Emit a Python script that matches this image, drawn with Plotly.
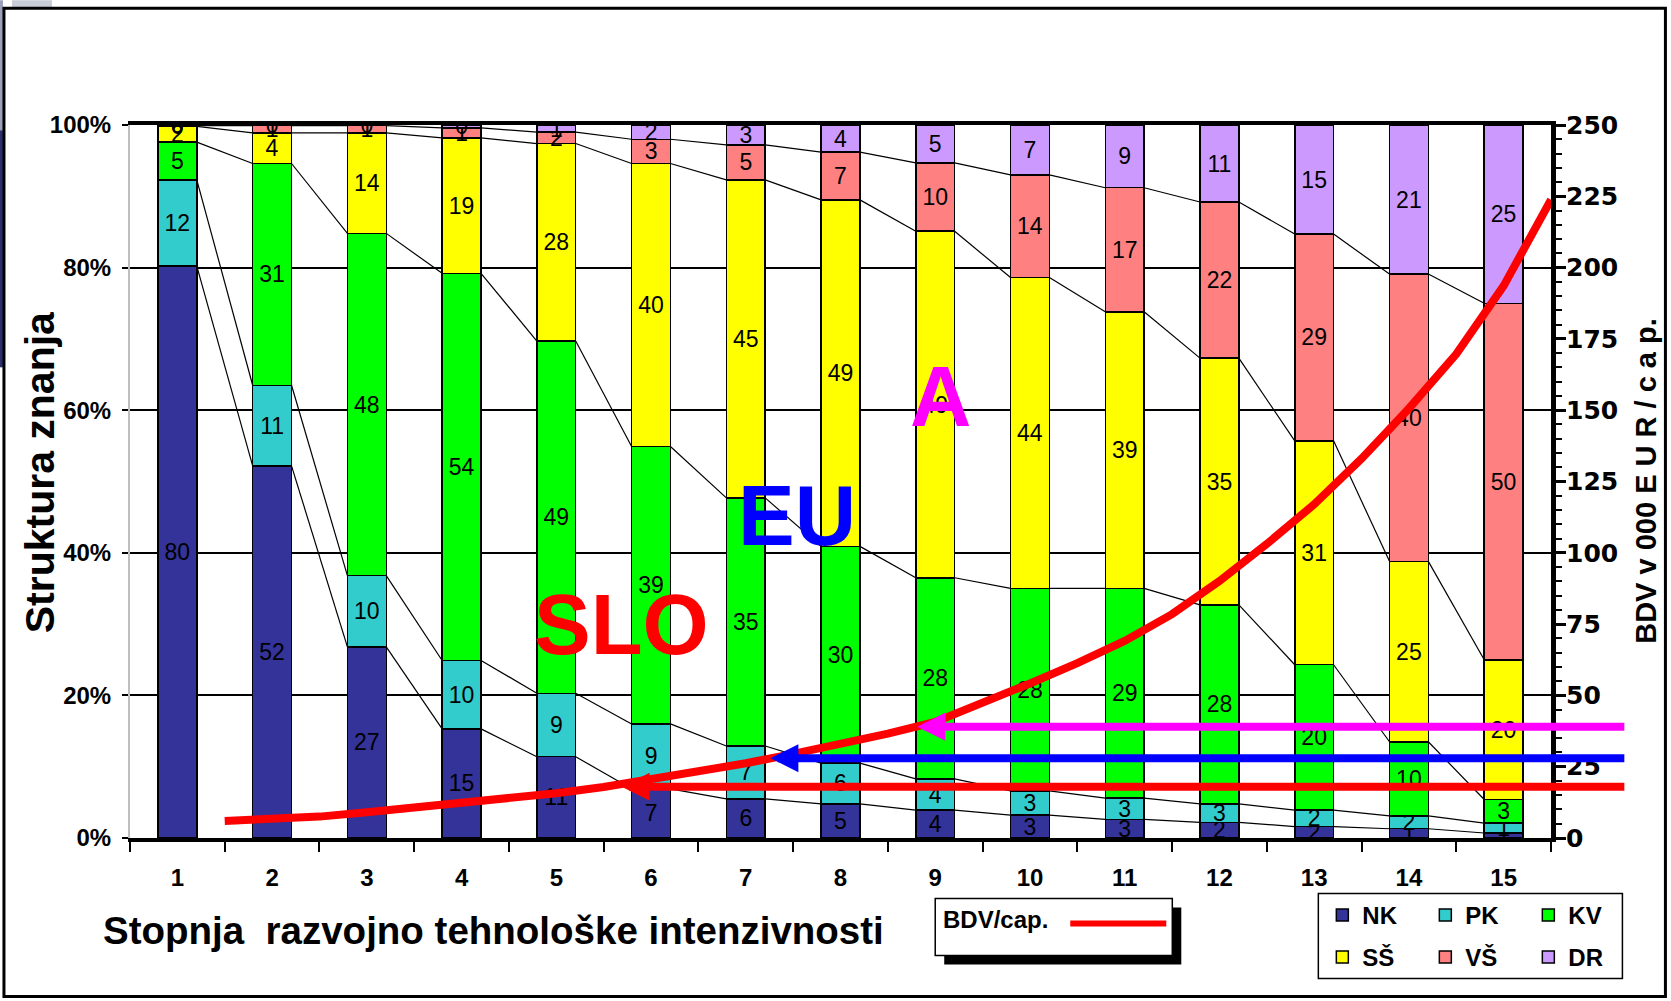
import plotly.graph_objects as go

# ---------------- data ----------------
CATEGORIES = list(range(1, 16))
NK = [80.2, 52.2, 26.8, 15.3, 11.4, 6.9, 5.5, 4.8, 3.9, 3.2, 2.6, 2.2, 1.6, 1.3, 0.7]
PK = [12.1, 11.3, 10.0, 9.6, 8.9, 9.1, 7.4, 5.7, 4.4, 3.4, 3.0, 2.6, 2.3, 1.8, 1.4]
KV = [5.3, 31.1, 48.0, 54.3, 49.4, 38.9, 34.8, 30.4, 28.2, 28.4, 29.4, 27.9, 20.4, 10.4, 3.3]
SS = [2.2, 4.3, 14.1, 19.0, 27.7, 39.7, 44.6, 48.6, 48.6, 43.6, 38.8, 34.6, 31.4, 25.3, 19.6]
VS = [0.1, 1.0, 1.0, 1.4, 1.6, 3.4, 4.9, 6.7, 9.6, 14.4, 17.4, 21.9, 29.0, 40.3, 50.0]
DR = [0.1, 0.1, 0.1, 0.4, 1.0, 2.0, 2.8, 3.8, 5.3, 7.0, 8.8, 10.8, 15.3, 20.9, 25.0]
SERIES_NAMES = ["NK", "PK", "KV", "SŠ", "VŠ", "DR"]
SERIES_COLORS = ["#333399", "#33CCCC", "#00FF00", "#FFFF00", "#FF8080", "#CC99FF"]

Y_TICKS = [0, 20, 40, 60, 80, 100]
Y_TICK_TEXT = ["0%", "20%", "40%", "60%", "80%", "100%"]

BDV_X = [1.5, 2, 2.5, 3, 3.5, 4, 4.5, 5, 5.5, 6, 6.5, 7, 7.5, 8, 8.5, 9, 9.5,
         10, 10.5, 11, 11.5, 12, 12.5, 13, 13.5, 14, 14.5, 15, 15.5]
BDV = [6.0, 6.7, 7.5, 9.0, 10.5, 12.0, 13.8, 15.7, 17.9, 20.6, 23.2, 26.2, 29.5, 32.9,
       36.6, 40.7, 47.1, 54.2, 61.3, 69.1, 78.5, 90.1, 103.1, 117.0, 133.0, 150.6,
       169.7, 193.6, 223.8]

REGION_LABELS = ["SLO", "EU", "A"]
REGION_COLORS = ["#FF0000", "#0000FF", "#FF00FF"]
REGION_X = [5.69, 7.54, 9.06]
REGION_Y = [30.0, 45.3, 61.9]
ARROW_LEVELS = [18, 28, 39]
ARROW_TIPS_X = [5.69, 7.26, 8.81]
ARROW_TAIL_X = 16.29

X_TITLE = "Stopnja  razvojno tehnološke intenzivnosti"
Y_TITLE = "Struktura znanja"
Y2_TITLE = "BDV v 000 E U R / c a p."
LINE_LABEL = "BDV/cap."

# ---------------- layout helpers ----------------
W, H = 1671, 1001
L, R, T, B = 130, 120.4, 124.7, 163.4
PW, PH = W - L - R, H - T - B


def PX(x):
    return (x - L) / PW


def PY(y):
    return (H - B - y) / PH


FONT = "Liberation Sans, Arial, sans-serif"
BAR_W = 0.41

fig = go.Figure()
series = [NK, PK, KV, SS, VS, DR]
for i, (name, vals, col) in enumerate(zip(SERIES_NAMES, series, SERIES_COLORS)):
    fig.add_trace(go.Bar(
        x=CATEGORIES, y=vals, name=name, width=BAR_W,
        marker=dict(color=col, line=dict(color="black", width=1.5)),
        text=[f"{v:.0f}" for v in vals], texttemplate="%{text}",
        textposition="inside", insidetextanchor="middle", textangle=0,
        constraintext="none",
        textfont=dict(family=FONT, size=23, color="black"),
        legend="legend" if i < 3 else "legend2",
        hoverinfo="skip",
    ))

# series lines connecting segment tops
cum = []
run = [0.0] * len(CATEGORIES)
for vals in series[:-1]:
    run = [a + b for a, b in zip(run, vals)]
    cum.append(run[:])
lx, ly = [], []
hw = BAR_W / 2
for c in cum:
    for i in range(len(CATEGORIES) - 1):
        lx += [CATEGORIES[i] + hw, CATEGORIES[i + 1] - hw, None]
        ly += [c[i], c[i + 1], None]
fig.add_trace(go.Scatter(x=lx, y=ly, mode="lines", line=dict(color="black", width=1.2),
                         showlegend=False, hoverinfo="skip"))

fig.add_trace(go.Scatter(x=BDV_X, y=BDV, yaxis="y2", mode="lines", name=LINE_LABEL,
                         line=dict(color="#FF0000", width=8), showlegend=False,
                         hoverinfo="skip"))

tickfont = dict(family=FONT, size=24, color="black", weight="bold")
legfont = dict(family=FONT, size=24, color="black", weight="bold")

fig.update_layout(
    width=W, height=H,
    margin=dict(l=L, r=R, t=T, b=B, pad=0, autoexpand=False),
    paper_bgcolor="white", plot_bgcolor="white",
    barmode="stack",
    showlegend=True,
    xaxis=dict(range=[0.5, 15.5], tickmode="array", tickvals=CATEGORIES, ticks="",
               showgrid=False, zeroline=False, showline=True, linewidth=4,
               linecolor="black", mirror=True, tickfont=tickfont,
               ticklabelstandoff=15,
               minor=dict(tickmode="array", tickvals=[0.5 + i for i in range(16)],
                          ticks="outside", ticklen=10, tickwidth=2, tickcolor="black")),
    yaxis=dict(range=[0, 100], tickmode="array", tickvals=Y_TICKS, ticktext=Y_TICK_TEXT,
               showgrid=True, gridcolor="black", gridwidth=1.5,
               zeroline=False, showline=True, linecolor="#bfbfbf", linewidth=2,
               ticks="outside", ticklen=6, tickwidth=2, tickcolor="black",
               tickfont=tickfont, ticklabelstandoff=6),
    yaxis2=dict(overlaying="y", side="right", range=[0, 250], tick0=0, dtick=25,
                showgrid=False, zeroline=False, showline=True, linewidth=5,
                linecolor="black", ticks="outside", ticklen=10, tickwidth=3,
                tickcolor="black",
                minor=dict(dtick=5, ticks="outside", ticklen=6, tickwidth=2,
                           tickcolor="black"),
                tickfont=dict(family="DejaVu Sans", size=25, color="black", weight="bold"),
                ticklabelstandoff=-5),
    legend=dict(orientation="h", x=PX(1322), y=PY(915), xanchor="left", yanchor="middle",
                bgcolor="rgba(0,0,0,0)", borderwidth=0, font=legfont,
                entrywidth=58, entrywidthmode="pixels", traceorder="normal"),
    legend2=dict(orientation="h", x=PX(1322), y=PY(957), xanchor="left", yanchor="middle",
                 bgcolor="rgba(0,0,0,0)", borderwidth=0, font=legfont,
                 entrywidth=58, entrywidthmode="pixels", traceorder="normal"),
)

shapes = [
    dict(type="rect", xref="paper", yref="paper", x0=PX(0), x1=PX(3), y0=PY(0), y1=PY(130),
         fillcolor="#9aa0b8", line=dict(width=0), layer="above"),
    dict(type="rect", xref="paper", yref="paper", x0=PX(0), x1=PX(3), y0=PY(130), y1=PY(367),
         fillcolor="#2b2f6e", line=dict(width=0), layer="above"),
    dict(type="rect", xref="paper", yref="paper", x0=PX(12), x1=PX(52), y0=PY(0), y1=PY(7),
         fillcolor="#c8cdd8", line=dict(width=0), layer="above"),
    dict(type="rect", xref="paper", yref="paper", x0=PX(4), x1=PX(1665), y0=PY(8), y1=PY(996),
         line=dict(color="black", width=3), layer="above"),
    dict(type="rect", xref="paper", yref="paper", x0=PX(1318), x1=PX(1622), y0=PY(893),
         y1=PY(978), fillcolor="white", line=dict(color="black", width=1.5), layer="above"),
    dict(type="rect", xref="paper", yref="paper", x0=PX(944), x1=PX(1181), y0=PY(907),
         y1=PY(964), fillcolor="black", line=dict(width=0), layer="above"),
    dict(type="rect", xref="paper", yref="paper", x0=PX(935), x1=PX(1172), y0=PY(898),
         y1=PY(955), fillcolor="white", line=dict(color="black", width=1.5), layer="above"),
    dict(type="line", xref="paper", yref="paper", x0=PX(1070), x1=PX(1166), y0=PY(923),
         y1=PY(923), line=dict(color="#FF0000", width=6), layer="above"),
]

annotations = [
    dict(text=X_TITLE, xref="paper", yref="paper", x=PX(493), y=PY(930), xanchor="center",
         yanchor="middle", showarrow=False,
         font=dict(family=FONT, size=38.5, color="black", weight="bold")),
    dict(text=Y_TITLE, xref="paper", yref="paper", x=PX(40), y=PY(472), xanchor="center",
         yanchor="middle", textangle=-90, showarrow=False,
         font=dict(family=FONT, size=41, color="black", weight="bold")),
    dict(text=Y2_TITLE, xref="paper", yref="paper", x=PX(1646), y=PY(480), xanchor="center",
         yanchor="middle", textangle=-90, showarrow=False,
         font=dict(family=FONT, size=29, color="black", weight="bold")),
    dict(text=LINE_LABEL, xref="paper", yref="paper", x=PX(941), y=PY(919), xanchor="left",
         yanchor="middle", showarrow=False,
         font=dict(family=FONT, size=24, color="black", weight="bold")),
]
for lab, col, rx, ry in zip(REGION_LABELS, REGION_COLORS, REGION_X, REGION_Y):
    annotations.append(dict(text=lab, xref="x", yref="y", x=rx, y=ry, xanchor="center",
                            yanchor="middle", showarrow=False,
                            font=dict(family=FONT, size=85, color=col, weight="bold")))
for lev, tip, col in zip(ARROW_LEVELS, ARROW_TIPS_X, REGION_COLORS):
    annotations.append(dict(text="", x=tip, y=lev, xref="x", yref="y2",
                            ax=ARROW_TAIL_X, ay=lev, axref="x", ayref="y2",
                            showarrow=True, arrowhead=2, arrowsize=0.7, arrowwidth=8,
                            arrowcolor=col, standoff=0))

fig.update_layout(shapes=shapes, annotations=annotations)
fig.write_html("out.html", config={"displayModeBar": False},
               post_script="document.body.style.margin='0px';document.body.style.padding='0px';")
